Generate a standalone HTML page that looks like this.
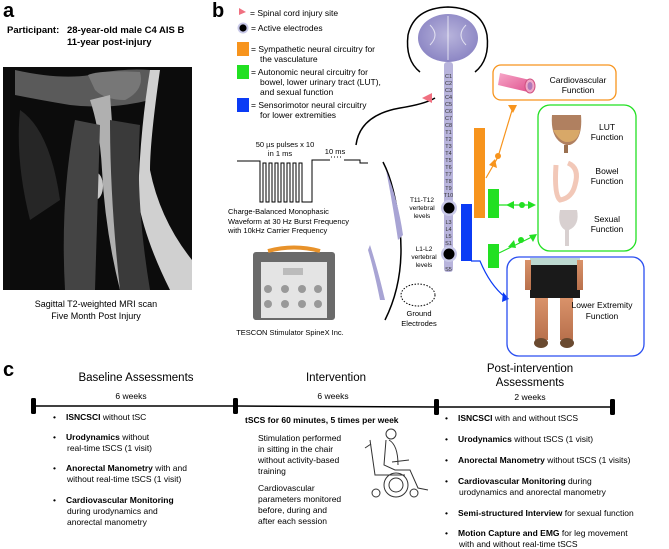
<!DOCTYPE html>
<html><head><meta charset="utf-8"><style>
body{margin:0;background:#fff}
svg{display:block;font-family:"Liberation Sans",Arial,sans-serif}
</style></head><body>
<svg width="669" height="549" viewBox="0 0 669 549" xmlns="http://www.w3.org/2000/svg">
<defs>
<radialGradient id="brain" cx="0.5" cy="0.45" r="0.55"><stop offset="0" stop-color="#b8b4dc"/><stop offset="1" stop-color="#8c86c4"/></radialGradient>
<linearGradient id="vessel" x1="0" y1="0" x2="1" y2="1"><stop offset="0" stop-color="#f7a8c8"/><stop offset="1" stop-color="#e0528f"/></linearGradient>
<linearGradient id="skin" x1="0" y1="0" x2="0" y2="1"><stop offset="0" stop-color="#d9926a"/><stop offset="1" stop-color="#b8704c"/></linearGradient>
</defs>

<!-- a -->
<text x="3" y="17" font-size="20" font-weight="bold">a</text>
<text x="7" y="33" font-size="9.5" font-weight="bold">Participant:</text>
<text x="67" y="33" font-size="9.5" font-weight="bold">28-year-old male C4 AIS B</text>
<text x="67" y="45" font-size="9.5" font-weight="bold">11-year post-injury</text>

<!-- MRI -->
<rect x="3" y="67" width="189" height="223" fill="#0c0c0c"/>
<path d="M15 70 Q60 80 90 75 Q120 68 150 70 L150 100 Q110 110 70 105 Q40 100 15 95Z" fill="#5a5a5a"/>
<path d="M88 75 Q100 70 140 72 Q145 90 125 100 Q105 100 95 90Z" fill="#777"/>
<path d="M90 100 Q100 130 102 170 Q105 230 120 290 L135 290 Q118 230 115 170 Q112 120 110 95Z" fill="#b0b0b0"/>
<ellipse cx="95" cy="186" rx="8" ry="14" fill="#c8c8c8"/>
<path d="M150 70 L160 70 Q150 140 150 170 Q160 220 192 260 L192 290 L170 290 Q145 240 138 200 Q140 130 150 70Z" fill="#d0d0d0"/>
<path d="M75 120 L100 125 L95 290 L65 290 Q60 200 75 120Z" fill="#444"/>
<path d="M110 120 L140 125 Q135 200 150 290 L120 290 Q110 200 110 120Z" fill="#3a3a3a"/>
<path d="M20 110 Q50 130 60 200 L30 220 Q15 160 20 110Z" fill="#262626"/>
<text x="96" y="307" font-size="9" text-anchor="middle">Sagittal T2-weighted MRI scan</text>
<text x="96" y="319" font-size="9" text-anchor="middle">Five Month Post Injury</text>

<!-- b -->
<text x="212" y="17" font-size="20" font-weight="bold">b</text>
<polygon points="239,8 246,12 239,15" fill="#f07080"/>
<text x="250" y="16" font-size="8.5">= Spinal cord injury site</text>
<circle cx="243" cy="28" r="5.5" fill="#c8c8e8"/><circle cx="243" cy="28" r="3.6" fill="#000"/>
<text x="251" y="31" font-size="8.5">= Active electrodes</text>
<rect x="237" y="42" width="12" height="14" fill="#f7941d"/>
<text x="251" y="52" font-size="8.5">= Sympathetic neural circuitry for</text>
<text x="260" y="62" font-size="8.5">the vasculature</text>
<rect x="237" y="65" width="12" height="14" fill="#22e022"/>
<text x="251" y="75" font-size="8.5">= Autonomic neural circuitry for</text>
<text x="260" y="85" font-size="8.5">bowel, lower urinary tract (LUT),</text>
<text x="260" y="95" font-size="8.5">and sexual function</text>
<rect x="237" y="98" width="12" height="14" fill="#0b3bf5"/>
<text x="251" y="108" font-size="8.5">= Sensorimotor neural circuitry</text>
<text x="260" y="118" font-size="8.5">for lower extremities</text>

<!-- head & body -->
<path d="M420 72 Q405 60 408 35 Q414 8 448 7 Q482 8 487 35 Q490 60 475 72" fill="none" stroke="#000" stroke-width="1.5"/>
<ellipse cx="448" cy="38" rx="30" ry="24" fill="url(#brain)"/>
<path d="M448 16 L448 60 M430 25 Q440 35 430 45 M466 25 Q456 35 466 45" stroke="#fff" stroke-width="1" fill="none" opacity="0.7"/>
<path d="M356 145 Q360 115 400 108 Q425 104 435 98" fill="none" stroke="#000" stroke-width="1.5"/>
<path d="M383 162 Q395 185 400 230 Q405 280 385 320" fill="none" stroke="#000" stroke-width="1.5"/>
<path d="M386 170 Q398 200 403 235 L398 240 Q392 200 386 170Z" fill="#a8a4d4"/>
<path d="M370 245 Q378 270 385 300 L380 300 Q374 270 368 250Z" fill="#a8a4d4"/>
<polygon points="422,98 432,93 432,103" fill="#f07080"/>
<!-- spine -->
<rect x="444" y="62" width="9" height="210" rx="3" fill="#b8b4dc"/>
<g font-size="5.5" fill="#333" text-anchor="middle">
<text x="448.5" y="78">C1</text><text x="448.5" y="85">C2</text><text x="448.5" y="92">C3</text><text x="448.5" y="99">C4</text><text x="448.5" y="106">C5</text><text x="448.5" y="113">C6</text><text x="448.5" y="120">C7</text><text x="448.5" y="127">C8</text><text x="448.5" y="134">T1</text><text x="448.5" y="141">T2</text><text x="448.5" y="148">T3</text><text x="448.5" y="155">T4</text><text x="448.5" y="162">T5</text><text x="448.5" y="169">T6</text><text x="448.5" y="176">T7</text><text x="448.5" y="183">T8</text><text x="448.5" y="190">T9</text><text x="448.5" y="197">T10</text><text x="448.5" y="224">L3</text><text x="448.5" y="231">L4</text><text x="448.5" y="238">L5</text><text x="448.5" y="245">S1</text><text x="448.5" y="271">S5</text>
</g>
<circle cx="449" cy="208" r="8" fill="#c8c8e8"/><circle cx="449" cy="208" r="5.5" fill="#000"/>
<circle cx="449" cy="254" r="8" fill="#c8c8e8"/><circle cx="449" cy="254" r="5.5" fill="#000"/>
<g font-size="6.5" text-anchor="middle"><text x="422" y="202">T11-T12</text><text x="422" y="210">vertebral</text><text x="422" y="218">levels</text>
<text x="424" y="251">L1-L2</text><text x="424" y="259">vertebral</text><text x="424" y="267">levels</text></g>
<ellipse cx="418" cy="295" rx="17" ry="11" fill="none" stroke="#000" stroke-dasharray="1.5,1.5"/>
<text x="419" y="316" font-size="7.5" text-anchor="middle">Ground</text>
<text x="419" y="326" font-size="7.5" text-anchor="middle">Electrodes</text>

<!-- waveform -->
<text x="285" y="147" font-size="7.5" text-anchor="middle">50 µs pulses x 10</text>
<text x="280" y="156" font-size="7.5" text-anchor="middle">in 1 ms</text>
<text x="335" y="154" font-size="7.5" text-anchor="middle">10 ms</text>
<path d="M237 161 L260 161 L260 202 L263 202 L263 163 L266 163 L266 202 L269 202 L269 163 L272 163 L272 202 L275 202 L275 163 L278 163 L278 202 L281 202 L281 163 L284 163 L284 202 L287 202 L287 163 L290 163 L290 202 L293 202 L293 163 L296 163 L296 202 L299 202 L299 163 L302 163 L302 202 L312 202 L312 160 L330 160 M344 160 L360 160 L360 163 L368 163" fill="none" stroke="#000" stroke-width="1"/>
<path d="M331 157 L343 157" stroke="#000" stroke-dasharray="1,2"/>
<text x="228" y="214" font-size="7.5">Charge-Balanced Monophasic</text>
<text x="228" y="224" font-size="7.5">Waveform at 30 Hz Burst Frequency</text>
<text x="228" y="233" font-size="7.5">with 10kHz Carrier Frequency</text>
<!-- stimulator -->
<rect x="253" y="252" width="82" height="68" rx="3" fill="#6a6a6a"/>
<path d="M268 251 Q294 244 320 251" stroke="#e8922a" stroke-width="4" fill="none"/>
<rect x="261" y="262" width="66" height="56" fill="#e4e4e4"/>
<rect x="283" y="268" width="20" height="7" fill="#bbb"/>
<g fill="#999"><circle cx="268" cy="289" r="4"/><circle cx="285" cy="289" r="4"/><circle cx="302" cy="289" r="4"/><circle cx="318" cy="289" r="4"/><circle cx="268" cy="304" r="4"/><circle cx="285" cy="304" r="4"/><circle cx="302" cy="304" r="4"/><circle cx="318" cy="304" r="4"/></g>
<text x="290" y="335" font-size="7.5" text-anchor="middle">TESCON Stimulator SpineX Inc.</text>

<!-- bars & connectors -->
<rect x="474" y="128" width="11" height="90" fill="#f7941d"/>
<rect x="461" y="204" width="11" height="57" fill="#0b3bf5"/>
<rect x="488" y="189" width="11" height="29" fill="#22e022"/>
<rect x="488" y="244" width="11" height="24" fill="#22e022"/>
<path d="M486 178 L498 157 L513 107" stroke="#f7941d" stroke-width="1.2" fill="none"/>
<circle cx="498" cy="156" r="3" fill="#f7941d"/>
<polygon points="508,105 517,105 513,113" fill="#f7941d"/>
<polygon points="489,165 495,159 497,168" fill="#f7941d"/>
<path d="M499 205 L534 205" stroke="#22e022" stroke-width="1.2"/>
<circle cx="522" cy="205" r="3" fill="#22e022"/>
<polygon points="506,205 514,201 514,209" fill="#22e022"/><polygon points="536,205 528,201 528,209" fill="#22e022"/>
<path d="M499 253 L536 235" stroke="#22e022" stroke-width="1.2"/>
<circle cx="521" cy="240" r="3" fill="#22e022"/>
<polygon points="508,247 514,240 516,248" fill="#22e022"/><polygon points="537,234 529,235 533,242" fill="#22e022"/>
<path d="M471 261 L480 261 Q490 285 505 297" stroke="#0b3bf5" stroke-width="1.2" fill="none"/>
<polygon points="503,292 509,299 502,302" fill="#0b3bf5"/>

<!-- boxes -->
<rect x="493" y="65" width="123" height="35" rx="8" fill="none" stroke="#f7941d" stroke-width="1.3"/>
<path d="M500 73 L530 80 L528 92 L498 85Z" fill="url(#vessel)"/>
<ellipse cx="530" cy="86" rx="5" ry="7" fill="#f0a8c8" stroke="#d05080"/>
<ellipse cx="530" cy="86" rx="2.5" ry="4" fill="#b07ab8"/>
<text x="578" y="83" font-size="8.5" text-anchor="middle">Cardiovascular</text>
<text x="578" y="93" font-size="8.5" text-anchor="middle">Function</text>
<rect x="538" y="105" width="98" height="146" rx="12" fill="none" stroke="#22e022" stroke-width="1.3"/>
<path d="M552 115 Q550 140 566 145 L570 145 Q583 140 581 115Z" fill="#b08060"/>
<path d="M553 130 Q560 142 567 142 Q578 142 580 130Z" fill="#d8a868"/>
<rect x="564" y="145" width="4" height="8" fill="#9a7050"/>
<path d="M556 165 Q554 195 560 200 Q572 198 575 185 Q580 168 568 163" fill="none" stroke="#f2c8b8" stroke-width="5"/>
<path d="M560 210 Q557 225 565 230 L565 246 L569 246 L569 230 Q580 225 577 210Z" fill="#d8d0d0"/>
<g font-size="8.5" text-anchor="middle"><text x="607" y="130">LUT</text><text x="607" y="140">Function</text>
<text x="607" y="174">Bowel</text><text x="607" y="184">Function</text>
<text x="607" y="222">Sexual</text><text x="607" y="232">Function</text></g>
<rect x="507" y="257" width="137" height="99" rx="12" fill="none" stroke="#2a4ef0" stroke-width="1.3"/>
<rect x="530" y="263" width="50" height="35" fill="#1a1a1a"/>
<rect x="530" y="258" width="50" height="7" fill="#bcd8d0"/>
<rect x="525" y="260" width="6" height="30" fill="url(#skin)"/>
<rect x="577" y="260" width="6" height="30" fill="url(#skin)"/>
<rect x="535" y="298" width="13" height="42" fill="url(#skin)"/>
<rect x="560" y="298" width="13" height="42" fill="url(#skin)"/>
<ellipse cx="541" cy="343" rx="7" ry="5" fill="#6a4a30"/><ellipse cx="567" cy="343" rx="7" ry="5" fill="#6a4a30"/>
<text x="602" y="308" font-size="8.5" text-anchor="middle">Lower Extremity</text>
<text x="602" y="319" font-size="8.5" text-anchor="middle">Function</text>

<!-- c -->
<text x="3" y="376" font-size="20" font-weight="bold">c</text>
<g font-size="11.5" text-anchor="middle">
<text x="136" y="381">Baseline Assessments</text>
<text x="336" y="381">Intervention</text>
<text x="530" y="372">Post-intervention</text>
<text x="530" y="386">Assessments</text></g>
<g font-size="8.5" text-anchor="middle"><text x="131" y="399">6 weeks</text><text x="333" y="399">6 weeks</text><text x="530" y="400">2 weeks</text></g>
<path d="M34 406 L236 406 L437 407 L613 407" stroke="#000" stroke-width="1.5" fill="none"/>
<rect x="31" y="398" width="5" height="16" rx="1.5"/><rect x="233" y="398" width="5" height="16" rx="1.5"/>
<rect x="434" y="399" width="5" height="16" rx="1.5"/><rect x="610" y="399" width="5" height="16" rx="1.5"/>

<g font-size="8.5">
<text x="53" y="420">•</text><text x="66" y="420"><tspan font-weight="bold">ISNCSCI</tspan> without tSC</text>
<text x="53" y="440">•</text><text x="66" y="440"><tspan font-weight="bold">Urodynamics</tspan> without</text>
<text x="67" y="451">real-time tSCS (1 visit)</text>
<text x="53" y="471">•</text><text x="66" y="471"><tspan font-weight="bold">Anorectal Manometry</tspan> with and</text>
<text x="67" y="482">without real-time tSCS (1 visit)</text>
<text x="53" y="503">•</text><text x="66" y="503"><tspan font-weight="bold">Cardiovascular Monitoring</tspan></text>
<text x="67" y="514">during urodynamics and</text>
<text x="67" y="525">anorectal manometry</text>

<text x="245" y="423" font-weight="bold">tSCS for 60 minutes, 5 times per week</text>
<text x="258" y="441">Stimulation performed</text>
<text x="258" y="452">in sitting in the chair</text>
<text x="258" y="463">without activity-based</text>
<text x="258" y="474">training</text>
<text x="258" y="491">Cardiovascular</text>
<text x="258" y="502">parameters monitored</text>
<text x="258" y="513">before, during and</text>
<text x="258" y="524">after each session</text>

<text x="445" y="421">•</text><text x="458" y="421"><tspan font-weight="bold">ISNCSCI</tspan> with and without tSCS</text>
<text x="445" y="442">•</text><text x="458" y="442"><tspan font-weight="bold">Urodynamics</tspan> without tSCS (1 visit)</text>
<text x="445" y="463">•</text><text x="458" y="463"><tspan font-weight="bold">Anorectal Manometry</tspan> without tSCS (1 visits)</text>
<text x="445" y="484">•</text><text x="458" y="484"><tspan font-weight="bold">Cardiovascular Monitoring</tspan> during</text>
<text x="459" y="495">urodynamics and anorectal manometry</text>
<text x="445" y="516">•</text><text x="458" y="516"><tspan font-weight="bold">Semi-structured Interview</tspan> for sexual function</text>
<text x="445" y="536">•</text><text x="458" y="536"><tspan font-weight="bold">Motion Capture and EMG</tspan> for leg movement</text>
<text x="459" y="547">with and without real-time tSCS</text>
</g>

<!-- wheelchair -->
<g fill="none" stroke="#333" stroke-width="1">
<circle cx="391" cy="434" r="5"/>
<path d="M386 440 L384 465 L395 470 L410 470 L418 488 L428 490"/>
<path d="M389 440 Q398 445 398 465"/>
<path d="M370 440 L375 475 L405 475"/>
<path d="M392 462 L409 460"/>
<circle cx="396" cy="485" r="12"/><circle cx="396" cy="485" r="7"/>
<circle cx="376" cy="493" r="4"/><circle cx="414" cy="493" r="4"/>
<path d="M365 448 L371 444"/>
</g>
</svg>
</body></html>
